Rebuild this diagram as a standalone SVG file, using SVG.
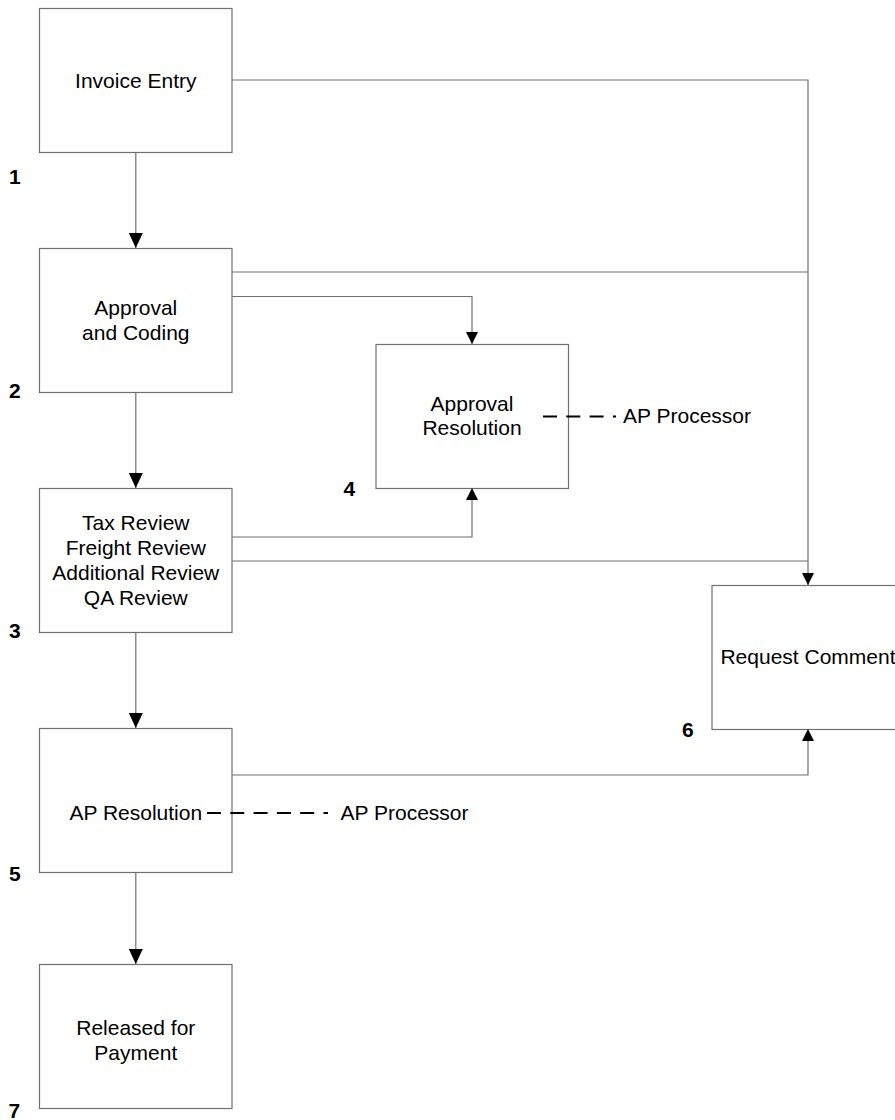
<svg xmlns="http://www.w3.org/2000/svg" width="895" height="1120" viewBox="0 0 895 1120">
<style>
.box{fill:#fff;stroke:#707070;stroke-width:1.2}
.lbl{font-family:"Liberation Sans",Arial,sans-serif;font-size:21px;fill:#000;text-anchor:middle}
.txt{font-family:"Liberation Sans",Arial,sans-serif;font-size:21px;fill:#000}
.num{font-family:"Liberation Sans",Arial,sans-serif;font-size:21px;font-weight:bold;fill:#000}
.conn{fill:none;stroke:#707070;stroke-width:1.2}
.dash{fill:none;stroke:#000;stroke-width:2;stroke-dasharray:14 9.3}
</style>
<defs>
<marker id="big" markerUnits="userSpaceOnUse" markerWidth="16" markerHeight="16" viewBox="0 0 16 16" refX="15" refY="8" orient="auto">
<path d="M0,1 L15,8 L0,15 Z" fill="#000"/>
</marker>
<marker id="small" markerUnits="userSpaceOnUse" markerWidth="14" markerHeight="14" viewBox="0 0 14 14" refX="12" refY="7" orient="auto">
<path d="M0,1 L12,7 L0,13 Z" fill="#000"/>
</marker>
</defs>
<g id="n1">
<rect class="box" x="39.5" y="8.5" width="192.5" height="144"/>
<text class="lbl" x="135.8" y="87.5">Invoice Entry</text>
<text class="num" x="9" y="184">1</text>
</g>
<g id="n2">
<rect class="box" x="39.5" y="248.5" width="192.5" height="144"/>
<text class="lbl" x="135.8" y="315">Approval</text>
<text class="lbl" x="135.8" y="339.5">and Coding</text>
<text class="num" x="9" y="398">2</text>
</g>
<g id="n3">
<rect class="box" x="39.5" y="488.5" width="192.5" height="144"/>
<text class="lbl" x="135.8" y="530">Tax Review</text>
<text class="lbl" x="135.8" y="554.5">Freight Review</text>
<text class="lbl" x="135.8" y="579.5">Additional Review</text>
<text class="lbl" x="135.8" y="604.5">QA Review</text>
<text class="num" x="9" y="638">3</text>
</g>
<g id="n4">
<rect class="box" x="376" y="344.5" width="192.5" height="144"/>
<text class="lbl" x="472" y="410.5">Approval</text>
<text class="lbl" x="472" y="435">Resolution</text>
<text class="txt" x="623" y="423">AP Processor</text>
<text class="num" x="343.5" y="496">4</text>
</g>
<g id="n5">
<rect class="box" x="39.5" y="728.5" width="192.5" height="144"/>
<text class="lbl" x="135.8" y="820">AP Resolution</text>
<text class="txt" x="340.5" y="820">AP Processor</text>
<text class="num" x="9" y="881">5</text>
</g>
<g id="n6">
<rect class="box" x="712" y="585.5" width="192.5" height="144"/>
<text class="lbl" x="808" y="664">Request Comment</text>
<text class="num" x="682" y="737">6</text>
</g>
<g id="n7">
<rect class="box" x="39.5" y="964.5" width="192.5" height="144"/>
<text class="lbl" x="135.8" y="1035">Released for</text>
<text class="lbl" x="135.8" y="1060">Payment</text>
<text class="num" x="8.5" y="1118">7</text>
</g>
<g id="connectors">
<path class="conn" d="M135.8,152 V248" marker-end="url(#big)"/>
<path class="conn" d="M135.8,392 V488" marker-end="url(#big)"/>
<path class="conn" d="M135.8,632 V728" marker-end="url(#big)"/>
<path class="conn" d="M135.8,872 V964" marker-end="url(#big)"/>
<path class="conn" d="M232,80 H808 V585" marker-end="url(#small)"/>
<path class="conn" d="M232,272 H808"/>
<path class="conn" d="M232,561 H808"/>
<path class="conn" d="M232,296.5 H472 V344" marker-end="url(#small)"/>
<path class="conn" d="M232,537 H472 V488" marker-end="url(#small)"/>
<path class="conn" d="M232,775 H808 V729" marker-end="url(#small)"/>
<path class="dash" d="M207,813 H328"/>
<path class="dash" d="M543,416.5 H616"/>
</g>
</svg>
